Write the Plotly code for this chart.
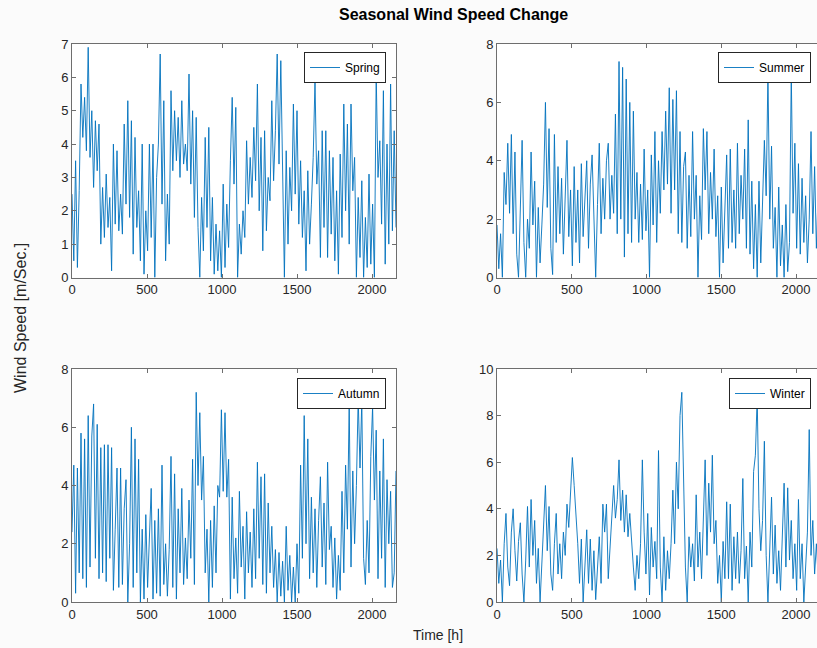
import plotly.graph_objects as go

step_h = 12
spring = [2.5,0.5,3.5,0.3,2.6,5.8,4.2,5.4,3.8,6.9,3.6,5.0,2.7,4.7,3.2,4.6,1.0,2.7,1.2,3.1,
          1.5,2.4,0.2,4.0,1.6,3.8,1.4,2.5,1.3,4.6,2.2,5.3,1.8,4.7,0.7,4.2,1.5,2.6,0.5,4.0,
          0.1,2.0,0.8,4.0,1.2,4.0,0.0,3.0,4.0,6.7,2.2,5.3,0.5,2.5,1.0,5.6,3.2,5.0,3.5,4.8,
          3.0,5.3,3.4,4.0,3.2,6.1,2.8,5.0,1.8,4.8,1.5,0.0,2.4,0.8,4.2,1.5,4.5,0.5,2.4,0.1,
          1.6,0.2,1.4,0.0,2.8,0.3,2.2,0.9,3.5,5.4,2.8,5.1,0.0,1.6,0.7,2.0,1.2,4.1,2.2,3.6,
          2.4,4.5,2.9,5.8,2.0,4.2,0.8,4.4,1.4,3.0,2.3,5.3,2.9,4.4,6.7,3.4,6.5,2.6,0.0,3.8,
          1.0,3.3,2.0,5.2,2.5,5.0,1.6,3.5,1.2,2.6,0.2,3.2,1.0,2.2,3.6,5.9,2.8,3.8,0.6,4.4,
          1.5,4.4,0.6,3.8,1.3,3.6,0.5,2.6,0.1,3.7,1.2,5.2,2.0,4.6,1.0,5.2,2.6,3.6,0.0,2.4,
          0.6,2.9,0.0,1.8,0.3,3.1,0.4,2.2,0.0,6.1,3.0,4.1,1.6,5.6,0.4,4.0,1.0,5.8,1.4,4.4,
          1.5]
summer = [1.8,0.3,1.5,0.0,3.6,2.5,4.6,2.2,4.9,1.5,4.3,0.8,0.0,2.8,4.7,1.2,0.0,2.0,1.0,4.3,
          1.8,3.3,0.0,2.4,0.5,1.8,3.2,6.0,2.4,5.1,1.0,0.1,4.9,1.2,3.8,1.5,3.4,0.8,2.8,4.7,
          1.4,3.0,0.4,3.8,1.2,3.0,0.5,3.9,1.4,2.8,4.0,1.0,3.2,4.2,1.6,0.0,2.5,4.6,1.5,3.4,
          2.0,4.0,4.6,2.0,3.5,2.2,5.6,1.5,7.4,2.0,7.2,0.7,6.8,1.5,6.0,1.2,5.7,2.0,3.6,1.2,
          3.2,1.3,4.4,1.6,3.0,0.0,4.2,1.8,5.0,1.2,4.0,2.2,5.0,3.0,5.7,3.2,6.5,2.2,6.1,3.0,
          6.4,1.5,5.0,1.2,3.8,4.3,1.0,3.5,1.4,5.0,2.0,3.5,0.0,2.8,1.3,5.1,3.0,5.0,1.5,3.6,
          2.0,4.4,1.4,2.8,0.0,3.1,0.5,2.5,4.2,1.0,4.4,1.2,3.0,1.0,4.6,1.5,3.5,2.0,4.4,1.0,
          5.4,0.8,3.3,0.3,2.5,0.0,3.3,0.5,2.4,4.7,2.8,7.0,2.0,4.5,1.0,2.4,0.0,3.1,0.4,1.8,
          0.0,2.5,0.2,1.2,7.0,2.2,4.6,1.0,3.9,0.8,3.4,1.2,2.8,0.5,2.0,5.0,1.5,3.8,1.0,3.0,
          2.0]
autumn = [2.4,4.7,0.3,4.6,1.0,5.8,0.8,5.6,0.5,6.4,1.2,5.7,6.8,1.5,6.1,0.8,5.3,1.0,5.4,0.7,
          5.4,1.5,5.3,0.4,2.5,4.6,0.5,4.6,0.6,3.2,4.2,0.0,2.0,6.0,0.5,5.6,1.0,4.9,0.0,2.5,
          0.1,3.0,0.5,2.2,3.9,0.1,2.8,0.3,3.2,0.2,4.7,0.6,2.0,0.2,1.8,5.0,0.5,4.4,0.1,3.2,
          1.0,3.9,0.6,2.2,0.8,3.5,1.5,4.9,0.6,7.2,4.0,6.5,3.5,5.0,1.0,2.5,0.0,2.8,0.5,3.3,
          1.0,4.0,3.6,6.6,3.8,6.5,3.6,4.9,0.1,3.6,0.8,2.2,0.3,3.8,1.2,2.6,0.1,3.1,1.0,2.4,
          0.5,3.2,0.8,4.8,1.5,4.3,0.6,4.4,0.3,3.4,1.0,2.6,0.5,1.8,0.0,1.7,0.2,1.4,0.0,2.6,
          0.4,1.6,0.0,1.2,0.0,2.0,0.3,4.7,1.5,6.4,2.0,5.6,0.8,3.6,1.0,3.2,0.5,2.8,4.3,1.2,
          3.4,0.6,4.8,1.8,2.6,0.5,2.2,0.1,1.6,0.4,3.8,1.0,4.7,2.5,6.8,1.2,4.5,2.0,4.0,7.0,
          4.6,6.9,1.5,0.6,2.8,1.0,5.0,6.7,3.5,5.9,0.8,4.5,1.5,5.6,0.5,4.2,2.0,3.8,0.5,1.0,
          4.5]
winter = [2.3,0.8,1.8,0.0,2.5,3.8,1.5,0.7,3.0,4.0,2.2,0.9,2.6,3.4,1.2,0.0,1.8,4.1,1.5,4.4,
          2.0,3.5,0.8,2.3,0.0,1.5,3.2,5.0,2.2,4.1,1.2,0.5,2.5,3.8,1.2,2.5,1.0,3.0,2.0,4.2,
          3.2,5.0,6.2,5.0,3.8,2.5,0.8,2.7,0.0,1.5,3.1,0.8,2.7,0.5,2.2,0.1,1.5,2.8,0.8,4.2,
          3.0,4.2,1.0,2.5,4.0,5.0,3.6,4.4,6.1,3.5,4.8,3.0,4.6,2.8,3.8,2.5,1.5,0.5,2.0,1.0,
          2.5,6.1,3.0,1.2,3.8,0.3,3.2,1.5,2.6,1.0,6.5,1.5,0.0,2.8,0.5,2.2,1.0,2.5,4.8,2.5,
          6.0,4.0,8.0,9.0,4.5,1.5,0.0,2.8,1.5,2.5,0.9,4.6,1.5,3.0,1.0,4.0,6.1,2.0,5.1,3.0,
          6.3,2.5,3.5,0.8,2.0,0.0,2.6,1.0,4.3,1.0,4.2,0.5,2.8,1.0,3.0,0.8,2.2,5.3,1.0,2.4,
          0.0,3.0,1.5,5.6,6.3,8.8,4.0,2.2,3.5,6.9,2.0,0.0,2.5,4.5,1.2,3.3,0.8,2.2,0.5,3.0,
          5.1,1.5,4.9,1.8,3.5,1.0,2.5,0.5,4.4,1.0,2.5,0.0,1.5,3.0,7.4,2.0,3.5,1.2,2.5,1.0,
          2.0]

season_names = ["Spring", "Summer", "Autumn", "Winter"]
season_values = [spring, summer, autumn, winter]
y_max = [7, 8, 8, 10]
y_dtick = [1, 2, 2, 2]
x_ticks = [0, 500, 1000, 1500, 2000]

# ---- layout geometry ----
W, H = 817, 648
def px_x(p): return p / W
def px_y(p): return 1 - p / H

x_dom = [[px_x(72), px_x(396)], [px_x(497), 1.0],
         [px_x(72), px_x(396)], [px_x(497), 1.0]]
y_dom = [[px_y(277.5), px_y(44)], [px_y(277.5), px_y(44)],
         [px_y(602), px_y(369)], [px_y(602), px_y(369)]]
x_rng = [[0, 2160], [0, 2140], [0, 2160], [0, 2140]]
legend_box = [(386, 52), (811, 52), (386, 378), (811, 378)]

line_color = "#0072BD"
axis_color = "#262626"
frame_color = "#6e6e6e"
font_family = "Liberation Sans, Arial, Helvetica, sans-serif"

fig = go.Figure()
layout = dict(
    width=W, height=H, margin=dict(l=0, r=0, t=0, b=0, autoexpand=False),
    paper_bgcolor="#fbfbfb", plot_bgcolor="white",
    font=dict(family=font_family, size=13, color=axis_color),
    showlegend=True,
)

for i, (name, vals) in enumerate(zip(season_names, season_values)):
    n = i + 1
    xa = "x" if n == 1 else f"x{n}"
    ya = "y" if n == 1 else f"y{n}"
    lg = "legend" if n == 1 else f"legend{n}"
    hours = [step_h * k for k in range(len(vals))]
    fig.add_trace(go.Scatter(
        x=hours, y=vals, mode="lines", name=name,
        line=dict(color=line_color, width=0.9),
        xaxis=xa, yaxis=ya, legend=lg,
    ))
    right = (i % 2 == 1)
    layout["xaxis" if n == 1 else f"xaxis{n}"] = dict(
        domain=x_dom[i], anchor=ya, range=x_rng[i],
        tickmode="array", tickvals=x_ticks, ticktext=[str(t) for t in x_ticks],
        ticks="inside", ticklen=4, tickcolor=frame_color,
        showline=True, linecolor=frame_color, linewidth=1, mirror="ticks",
        showgrid=False, zeroline=False,
        tickfont=dict(size=13, color=axis_color),
    )
    layout["yaxis" if n == 1 else f"yaxis{n}"] = dict(
        domain=y_dom[i], anchor=xa, range=[0, y_max[i]], dtick=y_dtick[i],
        ticks="inside", ticklen=4, tickcolor=frame_color,
        showline=True, linecolor=frame_color, linewidth=1,
        mirror=(False if right else "ticks"),
        showgrid=False, zeroline=False,
        tickfont=dict(size=13, color=axis_color),
    )
    bx, by = legend_box[i]
    layout[lg] = dict(
        x=px_x(bx), y=px_y(by), xanchor="right", yanchor="top",
        bgcolor="white", bordercolor=axis_color, borderwidth=1,
        font=dict(size=12, color="#000000"),
        itemwidth=30, tracegroupgap=0,
    )

fig.update_layout(**layout)

fig.add_annotation(text="<b>Seasonal Wind Speed Change</b>", x=px_x(453), y=px_y(15),
                   xref="paper", yref="paper", showarrow=False,
                   font=dict(size=16, color="#000000"), xanchor="center", yanchor="middle")
fig.add_annotation(text="Wind Speed [m/Sec.]", x=px_x(20), y=px_y(318),
                   xref="paper", yref="paper", showarrow=False, textangle=-90,
                   font=dict(size=16, color=axis_color), xanchor="center", yanchor="middle")
fig.add_annotation(text="Time [h]", x=px_x(438), y=px_y(635),
                   xref="paper", yref="paper", showarrow=False,
                   font=dict(size=14, color=axis_color), xanchor="center", yanchor="middle")

fig.write_html("out.html")
